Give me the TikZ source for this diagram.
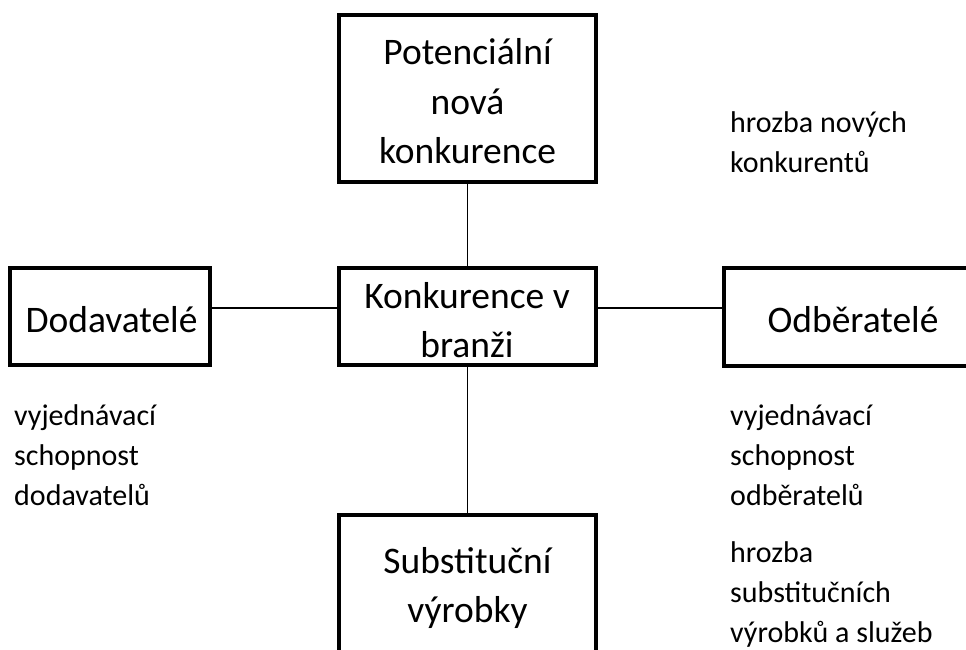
\documentclass[tikz,border=0pt]{standalone}
\usepackage{fontspec}
\setmainfont{Carlito}
\begin{document}
\begin{tikzpicture}[x=1pt,y=-1pt,
  box/.style={draw=black, line width=4pt, rectangle, inner sep=0pt},
  btxt/.style={inner sep=0pt, align=center, anchor=base,
    font=\fontsize{37.5}{49}\selectfont},
  conn/.style={draw=black, line width=1.4pt},
  lab/.style={inner sep=0pt, align=left, anchor=base west,
    font=\fontsize{30}{40}\selectfont}]
\useasboundingbox (0,0) rectangle (966,650);
\clip (0,0) rectangle (966,650);
% boxes
\node[box, minimum width=257pt, minimum height=167pt] (top) at (467.5,98.5) {};
\node[box, minimum width=257pt, minimum height=97pt] (mid) at (467.5,316.5) {};
\node[box, minimum width=200pt, minimum height=97pt] (left) at (110,316.5) {};
\node[box, minimum width=258pt, minimum height=98pt] (right) at (853,317) {};
\node[box, minimum width=257pt, minimum height=146pt] (bot) at (467.5,588) {};
% box texts (anchored at the baseline of the last line)
\node[btxt] (toptxt) at (467.5,163) {Potenciální\\nová\\konkurence};
\node[btxt] (midtxt) at (467,357) {Konkurence v\\branži};
\node[btxt] (lefttxt) at (111.5,332) {Dodavatelé};
\node[btxt] (righttxt) at (853,332) {Odběratelé};
\node[btxt] (bottxt) at (467.5,622) {Substituční\\výrobky};
% connectors
\draw[conn] (top.south) -- (mid.north);
\draw[conn] (mid.south) -- (bot.north);
\draw[conn] ([yshift=8.5pt]left.east) -- ([yshift=8.5pt]mid.west);
\draw[conn] ([yshift=8.5pt]mid.east) -- ([yshift=9pt]right.west);
% annotations (anchored at the baseline of the last line)
\node[lab] (hnk) at (730,172) {hrozba nových\\konkurentů};
\node[lab] (vsd) at (14,505) {vyjednávací\\schopnost\\dodavatelů};
\node[lab] (vso) at (730,505) {vyjednávací\\schopnost\\odběratelů};
\node[lab] (hsv) at (730,642) {hrozba\\substitučních\\výrobků a služeb};
\end{tikzpicture}
\end{document}
